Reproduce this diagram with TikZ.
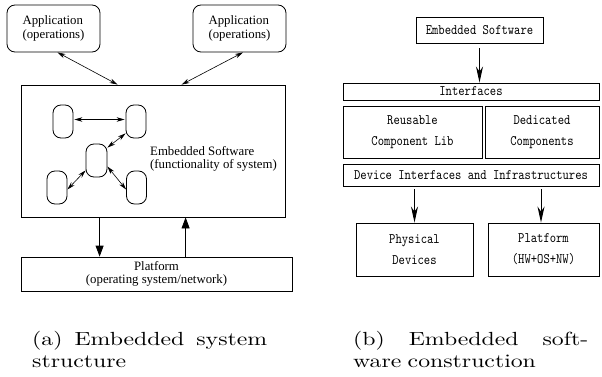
\documentclass[tikz,border=0pt]{standalone}
\usepackage{fontspec}
\usetikzlibrary{arrows.meta,calc}
\newfontfamily\tmsfont{Liberation Serif}
\newfontfamily\monofnt{lmmono10-regular.otf}[FakeStretch=0.83]
\newfontfamily\capfnt{lmroman10-regular.otf}[FakeStretch=1.25]
\begin{document}
\begin{tikzpicture}[x=1pt,y=-1pt,
  rbox/.style={draw, line width=0.8pt, rounded corners=8pt, inner sep=0pt},
  sbox/.style={draw, line width=0.8pt, inner sep=0pt},
  tlabel/.style={font=\tmsfont\fontsize{12.8}{13.5}\selectfont, inner sep=0pt},
  mbox/.style={draw, line width=0.9pt, inner sep=0pt, align=center, font=\monofnt\fontsize{14.5}{21}\selectfont},
  dblarrow/.style={line width=0.6pt, {Stealth[length=8pt,width=4.5pt]}-{Stealth[length=8pt,width=4.5pt]}},
  vtri/.style={line width=0.8pt, -{Triangle[length=11pt,width=8pt]}},
  rarrow/.style={line width=1pt, -{Stealth[length=16pt,width=7pt,inset=5pt]}},
  captext/.style={font=\capfnt\fontsize{19}{22}\selectfont, text width=235pt, align=left, inner sep=0pt, anchor=base west}
]
\fill[white] (0,0) rectangle (602,377);
\useasboundingbox (0,0) rectangle (602,377);

% ---------- (a) ----------
\node[rbox, tlabel, align=left, minimum width=93pt, minimum height=47pt] (app1) at (53.5,28.5) {Application\\(operations)};
\node[rbox, tlabel, align=left, minimum width=93pt, minimum height=47pt] (app2) at (239.5,28.5) {Application\\(operations)};
\node[sbox, minimum width=264pt, minimum height=132pt] (es) at (153,151) {};
\node[rbox, minimum width=20pt, minimum height=33pt] (a) at (63,121.5) {};
\node[rbox, minimum width=20pt, minimum height=33pt] (b) at (136,121.5) {};
\node[rbox, minimum width=21pt, minimum height=33pt] (c) at (96.5,160.5) {};
\node[rbox, minimum width=20pt, minimum height=33pt] (d) at (57,187.5) {};
\node[rbox, minimum width=20pt, minimum height=33pt] (e) at (136.5,187.5) {};
\node[tlabel, align=left, anchor=west] (estext) at (150,159) {Embedded Software\\(functionality of system)};
\node[sbox, tlabel, align=center, minimum width=271pt, minimum height=34pt] (plat) at (156.5,274) {Platform\\(operating system/network)};

\draw[dblarrow] ($(app1.south)+(4,0)$) -- ($(es.north west)+(97,0)$);
\draw[dblarrow] ($(app2.south)+(3.5,0)$) -- ($(es.north west)+(161,0)$);
\draw[dblarrow] ($(a.east)+(1,-2)$) -- ($(b.west)+(-1,-2)$);
\draw[dblarrow] ($(b.south west)+(0,-5)$) -- ($(c.north east)+(0,4)$);
\draw[dblarrow] ($(c.south west)+(0,-7)$) -- ($(d.east)+(0,2)$);
\draw[dblarrow] ($(c.east)+(0,6)$) -- ($(e.west)+(0,2)$);
\draw[vtri] ($(es.south west)+(79,0)$) -- ($(plat.north west)+(79,0)$);
\draw[vtri] ($(plat.north west)+(165,0)$) -- ($(es.south west)+(165,0)$);

% ---------- (b) ----------
\node[mbox, minimum width=127pt, minimum height=26pt] (res) at (479.5,30) {Embedded Software};
\node[mbox, minimum width=256pt, minimum height=17pt] (intf) at (471,91.5) {Interfaces};
\node[mbox, minimum width=139pt, minimum height=52pt] (reus) at (412.5,132) {Reusable\\Component Lib};
\node[mbox, minimum width=114pt, minimum height=52pt] (dedi) at (542,132) {Dedicated\\Components};
\node[mbox, minimum width=256pt, minimum height=22pt] (dev) at (471,175) {Device Interfaces and Infrastructures};
\node[mbox, minimum width=117pt, minimum height=53pt] (phys) at (414.5,249.5) {Physical\\Devices};
\node[mbox, minimum width=111pt, minimum height=53pt] (platb) at (543.5,249.5) {Platform\\(HW+OS+NW)};

\draw[rarrow] ($(res.south)+(0,5)$) -- (res.south |- intf.north);
\draw[rarrow] ($(phys.north |- dev.south)+(0,3)$) -- (phys.north);
\draw[rarrow] ($(platb.north |- dev.south)+(-2.5,3)$) -- ($(platb.north)+(-2.5,0)$);

% ---------- captions ----------
\node[captext] (capa) at (32,345) {(a)\hfill Embedded\hfill system\\structure};
\node[captext] (capb) at (353,345) {(b)\hfill Embedded\hfill soft-\\ware construction};
\end{tikzpicture}
\end{document}
